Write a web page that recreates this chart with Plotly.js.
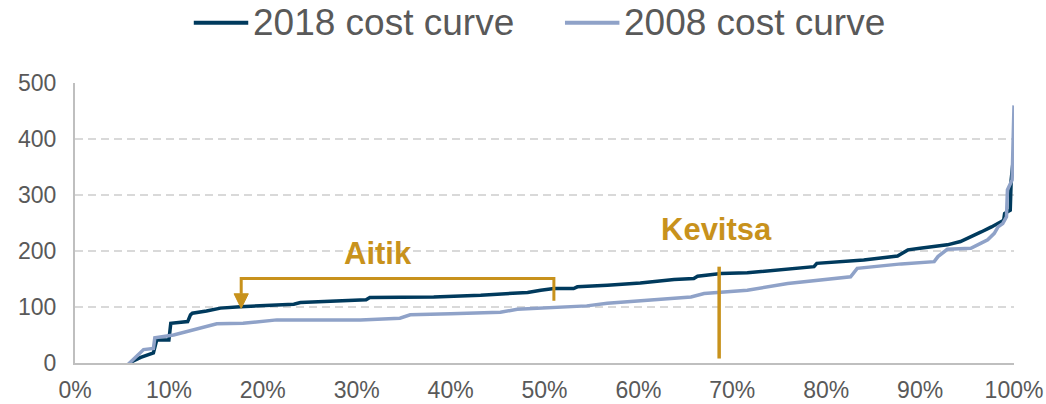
<!DOCTYPE html>
<html>
<head>
<meta charset="utf-8">
<script src="https://cdn.plot.ly/plotly-3.0.1.min.js"></script>
<style>html,body{margin:0;padding:0;background:#fff;}#chart{width:1046px;height:404px;}</style>
</head>
<body>
<div id="chart"></div>
<script>
// 2018 cost curve (cumulative production %, cost)
const x2018 = [5.6, 6.0, 7.0, 8.35, 8.7, 10.0, 10.2, 12.0, 12.3, 12.5, 14, 15.5, 17.6, 20, 23.3, 24, 27, 29.3, 31, 31.4, 35, 38.2, 43.2, 46, 48.2, 49.6, 51, 53.1, 53.5, 56.7, 60.2, 63.8, 65.9, 66.3, 68.8, 71.6, 75.2, 78.7, 79, 84, 87.6, 88.7, 90, 92.9, 94.3, 95.4, 96.5, 97.6, 98.3, 98.9, 99.0, 99.6, 99.7, 99.9];
const y2018 = [-5, 2, 10, 18, 41, 41, 71, 74, 86, 89, 93, 98, 100.5, 102, 105, 108, 110, 112.5, 113, 117, 118, 118, 121, 123, 126, 130, 133, 133, 136, 139, 143, 149, 151, 155, 160, 161, 167, 172, 178, 184, 191, 202, 205, 211, 217, 225, 234, 243, 249, 255, 267, 273, 327, 360];
// 2008 cost curve
const x2008 = [5.5, 7.3, 8.35, 8.5, 10.5, 15.1, 17.9, 19.7, 21.5, 25, 30.4, 34.6, 35.7, 40, 45.3, 47.1, 51, 54.5, 56.7, 60.2, 63, 65.6, 67, 71.6, 75.9, 80, 82.6, 83.3, 88, 91.5, 91.9, 92.9, 95.4, 96.5, 97.2, 97.9, 98.3, 98.8, 99.2, 99.3, 99.8, 100];
const y2008 = [-5, 24, 26, 45, 50, 70, 71, 74, 77, 77, 77, 80, 86, 88, 90.5, 96, 99, 102, 106.5, 111, 116, 118, 124, 130, 142, 150, 154, 169, 177, 181, 190, 203, 205, 214, 220, 231.5, 243, 249, 261, 309, 327, 460];
// Series names
const seriesNames = ["2018 cost curve", "2008 cost curve"];
const seriesColors = ["#003A5D", "#8FA2C8"];
// Axis ticks
const xTicks = [0, 10, 20, 30, 40, 50, 60, 70, 80, 90, 100];
const yTicks = [0, 100, 200, 300, 400, 500];
// Annotation values
const aitikRange = [17.7, 51];   // bracket ends (% of production)
const aitikLevels = [97.6, 151, 111]; // arrow tip, bracket top, right end
const aitikLabel = {text: "Aitik", x: 32.3, y: 195};
const kevitsaX = 68.6;
const kevitsaRange = [8, 172];
const kevitsaLabel = {text: "Kevitsa", x: 68.3, y: 239};

const gold = "#C8921C";
const fam = "Liberation Sans, Arial, sans-serif";
const tickFont = {family: fam, size: 23, color: "#595959"};

const traces = seriesNames.map((n, i) => ({
  x: i === 0 ? x2018 : x2008, y: i === 0 ? y2018 : y2008, name: n, type: "scatter", mode: "lines",
  line: {color: seriesColors[i], width: 3.5}, showlegend: false
}));

const headW = 0.76, headH = 26;
const shapes = [
  {type: "path", xref: "x", yref: "y",
   path: `M${aitikRange[0]},${aitikLevels[0] + headH} L${aitikRange[0]},${aitikLevels[1]} L${aitikRange[1]},${aitikLevels[1]} L${aitikRange[1]},${aitikLevels[2]}`,
   line: {color: gold, width: 3}},
  {type: "path", xref: "x", yref: "y",
   path: `M${aitikRange[0] - headW},${aitikLevels[0] + headH} L${aitikRange[0] + headW},${aitikLevels[0] + headH} L${aitikRange[0]},${aitikLevels[0]} Z`,
   fillcolor: gold, line: {color: gold, width: 1}},
  {type: "line", xref: "x", yref: "y", x0: kevitsaX, x1: kevitsaX, y0: kevitsaRange[0], y1: kevitsaRange[1],
   line: {color: gold, width: 3.5}}
];

// Custom legend (long line symbols as in the reference)
const legendX = [0.1265, 0.5218]; // paper x of the line-symbol start
const legendLineLen = 0.058;
const legendY = 1.215;
seriesNames.forEach((n, i) => {
  shapes.push({type: "line", xref: "paper", yref: "paper",
    x0: legendX[i], x1: legendX[i] + legendLineLen, y0: legendY, y1: legendY,
    line: {color: seriesColors[i], width: 4}});
});

const annFont = {family: fam, size: 31, color: gold, weight: "bold"};
const annotations = [aitikLabel, kevitsaLabel].map(a => ({
  x: a.x, y: a.y, xref: "x", yref: "y", text: "<b>" + a.text + "</b>", showarrow: false,
  font: annFont, xanchor: "center", yanchor: "middle"
}));
seriesNames.forEach((n, i) => {
  annotations.push({x: legendX[i] + legendLineLen + 0.003, y: legendY, xref: "paper", yref: "paper",
    text: n, showarrow: false, xanchor: "left", yanchor: "middle",
    font: {family: fam, size: 37, color: "#595959"}});
});

const layout = {
  width: 1046, height: 404,
  margin: {l: 75, r: 32, t: 83, b: 41, autoexpand: false},
  paper_bgcolor: "#ffffff", plot_bgcolor: "#ffffff",
  showlegend: false,
  xaxis: {range: [0, 100], tickvals: xTicks, ticktext: xTicks.map(v => v + "%"),
          showgrid: false, zeroline: false, showline: true, linecolor: "#BFBFBF", linewidth: 2,
          ticks: "", tickfont: tickFont, ticklabelstandoff: 5, fixedrange: true},
  yaxis: {range: [0, 500], tickvals: yTicks, showgrid: true, gridcolor: "#D9D9D9", gridwidth: 2,
          griddash: "8px,5px", zeroline: false, showline: true, linecolor: "#BFBFBF", linewidth: 2,
          ticks: "", tickfont: tickFont, ticklabelstandoff: 12, fixedrange: true},
  shapes: shapes,
  annotations: annotations
};

Plotly.newPlot("chart", traces, layout, {displayModeBar: false, staticPlot: true});
</script>
</body>
</html>
